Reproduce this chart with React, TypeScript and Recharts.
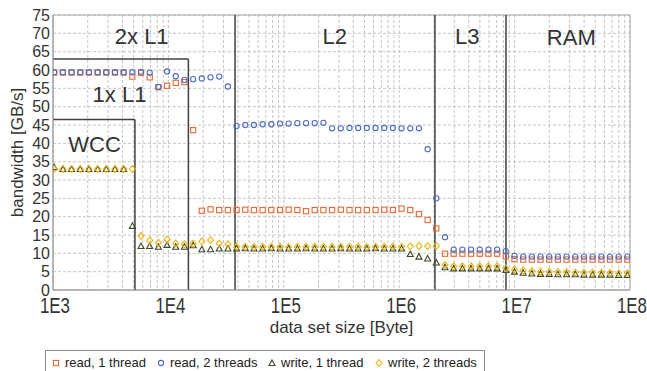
import { ScatterChart, Scatter, XAxis, YAxis, CartesianGrid, ReferenceLine, ReferenceArea, ReferenceDot, Legend, Label } from 'recharts';

// data set sizes in bytes (4 points per doubling)
const sizes = [
  1024, 1218, 1448, 1722, 2048, 2435, 2896, 3444, 4096, 4871, 5793, 6889, 8192, 9742, 11585, 13777,
  16384, 19484, 23170, 27554, 32768, 38968, 46341, 55109, 65536, 77936, 92682, 110218, 131072, 155872,
  185364, 220436, 262144, 311744, 370728, 440872, 524288, 623487, 741455, 881744, 1048576, 1246974,
  1482910, 1763488, 2097152, 2493948, 2965821, 3526975, 4194304, 4987896, 5931642, 7053950, 8388608,
  9975792, 11863283, 14107900, 16777216, 19951584, 23726566, 28215801, 33554432, 39903169, 47453133,
  56431603, 67108864, 79806338, 94906266,
];

const read1 = [
  59.3, 59.3, 59.3, 59.3, 59.3, 59.3, 59.3, 59.3, 59.3,
  58.2, 59.2, 58.0, 55.3, 55.7, 56.5, 56.7, 43.6,
  21.6, 22.0,
  21.8, 21.8, 21.8, 21.9, 21.8, 21.8, 21.8, 21.8, 21.9, 21.8, 21.5,
  21.8, 21.8, 21.8, 21.9, 21.8, 21.8, 21.8, 21.8, 21.9, 21.8,
  22.2, 21.8, 20.7, 19.1, 16.8,
  9.9, 9.9, 9.9, 9.9, 9.9, 9.9, 9.9,
  9.2,
  8.4, 8.3, 8.3, 8.3, 8.3, 8.3, 8.3, 8.3, 8.3, 8.3, 8.3, 8.3, 8.3, 8.3,
];

const read2 = [
  59.4, 59.4, 59.4, 59.4, 59.4, 59.4, 59.4, 59.4, 59.4,
  59.4, 59.5, 59.3, 55.4, 59.6, 58.3, 57.3, 57.5,
  57.7, 58.0, 58.2, 55.5,
  44.7, 45.0, 45.0, 45.2, 45.2, 45.4, 45.4, 45.5, 45.5, 45.5, 45.6,
  44.1, 44.1, 44.2, 44.2, 44.2, 44.2, 44.2, 44.2, 44.1, 44.1, 44.1,
  38.4, 25.0, 14.4,
  11.0, 11.0, 11.0, 11.0, 11.0, 11.0,
  10.6,
  9.3, 9.1, 9.1, 9.1, 9.1, 9.1, 9.1, 9.1, 9.1, 9.1, 9.1, 9.1, 9.1, 9.1,
];

const write1 = [
  33.5, 33.0, 33.0, 33.0, 33.0, 33.0, 33.0, 33.0, 33.0,
  17.5, 12.0, 12.0, 11.8, 12.3, 11.8, 11.8, 12.2,
  11.1, 11.1, 11.3, 11.3,
  11.3, 11.4, 11.3, 11.3, 11.4, 11.3, 11.3, 11.3, 11.4, 11.3,
  11.3, 11.3, 11.4, 11.3, 11.3, 11.3, 11.4, 11.3, 11.3, 11.3,
  9.8, 9.1, 8.6, 7.5, 6.2,
  5.9, 5.9, 5.9, 5.9, 5.9, 5.9,
  5.5,
  5.0, 4.7, 4.5, 4.4, 4.4, 4.3, 4.3, 4.3, 4.2, 4.2, 4.2, 4.2, 4.1, 4.1,
];

const write2 = [
  33.0, 33.0, 33.0, 33.0, 33.0, 33.0, 33.0, 33.0, 33.0,
  33.0, 14.7, 13.5, 12.9, 13.8, 12.7, 12.5, 12.7,
  13.2, 13.6, 12.7, 12.5,
  11.8, 11.8, 11.7, 11.8, 11.8, 11.8, 11.7, 11.8, 11.8, 11.8,
  11.8, 11.7, 11.8, 11.8, 11.8, 11.7, 11.8, 11.8, 11.8, 11.8,
  11.9, 12.0, 12.0, 12.0,
  6.8,
  6.5, 6.5, 6.5, 6.5, 6.5, 6.5,
  5.9,
  5.6, 5.3, 5.1, 5.0, 5.0, 4.9, 4.9, 4.8, 4.8, 4.8, 4.7, 4.7, 4.6, 4.6,
];

const majorTicks = [1e3, 1e4, 1e5, 1e6, 1e7, 1e8];
const majorLabels = ['1E3', '1E4', '1E5', '1E6', '1E7', '1E8'];
const minorSteps = [2, 3, 4, 5, 6, 7, 8, 9];
const yTicks = [0, 5, 10, 15, 20, 25, 30, 35, 40, 45, 50, 55, 60, 65, 70, 75];
const seriesNames = ['read, 1 thread', 'read, 2 threads', 'write, 1 thread', 'write, 2 threads'];

const ORANGE = '#E56A35';
const BLUE = '#4D6CC0';
const OLIVE = '#3A4A2A';
const GOLD = '#EFB20A';
const LINE = '#404040';
const TEXT = '#333333';

const xTicks = majorTicks.flatMap((d) => (d < 1e8 ? [d, ...minorSteps.map((m) => m * d)] : [d]));

const toPoints = (vals: number[]) => sizes.map((x, i) => ({ x, y: vals[i] }));

const Square = (p: any) => (
  <rect x={p.cx - 2.6} y={p.cy - 2.6} width={5.2} height={5.2} fill="none" stroke={ORANGE} strokeWidth={1.1} />
);
const Circle = (p: any) => <circle cx={p.cx} cy={p.cy} r={2.6} fill="none" stroke={BLUE} strokeWidth={1.1} />;
const Triangle = (p: any) => (
  <polygon
    points={`${p.cx},${p.cy - 3} ${p.cx + 3},${p.cy + 2.5} ${p.cx - 3},${p.cy + 2.5}`}
    fill="none"
    stroke={OLIVE}
    strokeWidth={1.1}
  />
);
const Diamond = (p: any) => (
  <polygon
    points={`${p.cx},${p.cy - 3.4} ${p.cx + 3},${p.cy} ${p.cx},${p.cy + 3.4} ${p.cx - 3},${p.cy}`}
    fill="none"
    stroke={GOLD}
    strokeWidth={1.1}
  />
);

const markers = [Square, Circle, Triangle, Diamond];

const XTick = ({ x, payload }: any) => {
  const idx = majorTicks.indexOf(payload.value);
  if (idx < 0) return <g />;
  return (
    <text x={x + 2} y={313} textAnchor="middle" fontSize={22} textLength={30} lengthAdjust="spacingAndGlyphs" fill={TEXT}>
      {majorLabels[idx]}
    </text>
  );
};

const YTick = ({ y, payload }: any) => (
  <text x={50} y={y} dy={5.6} textAnchor="end" fontSize={16} fill={TEXT}>
    {payload.value}
  </text>
);

const legendLeft = [10, 115, 226, 333];

const renderLegend = () => (
  <div
    style={{
      position: 'relative',
      width: 440,
      height: 26,
      border: '1px solid #8c8c8c',
      boxSizing: 'border-box',
      background: '#fff',
      fontSize: 13,
      color: '#222',
    }}
  >
    {seriesNames.map((name, i) => {
      const M = markers[i];
      return (
        <div key={name} style={{ position: 'absolute', left: legendLeft[i] - 5, top: 5, display: 'flex', alignItems: 'center', whiteSpace: 'nowrap' }}>
          <svg width={10} height={10}>
            <M cx={5} cy={5} />
          </svg>
          <span style={{ marginLeft: 4, lineHeight: '13px' }}>{name}</span>
        </div>
      );
    })}
  </div>
);

const regionLabel = (value: string) => ({ value, position: 'center' as const, fontSize: 22, fill: TEXT });

export default function App() {
  return (
    <div style={{ position: 'absolute', left: 0, top: 0, width: 647, height: 371, background: '#fff', fontFamily: '"Liberation Sans", Arial, sans-serif' }}>
      <ScatterChart width={647} height={371} margin={{ top: 15, right: 17, left: 0, bottom: 41 }}>
        <CartesianGrid strokeDasharray="3 2" stroke="#c6c6c6" />
        <XAxis
          type="number"
          dataKey="x"
          scale="log"
          domain={[1e3, 1e8]}
          ticks={xTicks}
          interval={0}
          allowDataOverflow
          tickLine={false}
          axisLine={{ stroke: '#a0a0a0' }}
          height={40}
          tick={<XTick />}
        >
          <Label
            content={() => (
              <text x={341.5} y={333} textAnchor="middle" fontSize={17} fill={TEXT}>
                data set size [Byte]
              </text>
            )}
          />
        </XAxis>
        <YAxis
          type="number"
          dataKey="y"
          domain={[0, 75]}
          ticks={yTicks}
          interval={0}
          allowDataOverflow
          width={53}
          tickLine={false}
          axisLine={{ stroke: '#a0a0a0' }}
          tick={<YTick />}
        >
          <Label
            content={() => (
              <text transform="translate(23,152.5) rotate(-90)" textAnchor="middle" fontSize={17} fill={TEXT}>
                bandwidth [GB/s]
              </text>
            )}
          />
        </YAxis>
        <ReferenceArea x1={1e3} x2={1e8} y1={0} y2={75} fill="none" stroke="#a6a6a6" strokeWidth={1} />

        {/* cache level boundaries */}
        <ReferenceLine segment={[{ x: 1e3, y: 46.5 }, { x: 5130, y: 46.5 }]} stroke={LINE} strokeWidth={1.5} />
        <ReferenceLine segment={[{ x: 5130, y: 0 }, { x: 5130, y: 46.5 }]} stroke={LINE} strokeWidth={1.5} />
        <ReferenceLine segment={[{ x: 1e3, y: 63 }, { x: 14900, y: 63 }]} stroke={LINE} strokeWidth={1.5} />
        <ReferenceLine segment={[{ x: 14900, y: 0 }, { x: 14900, y: 63 }]} stroke={LINE} strokeWidth={1.5} />
        <ReferenceLine x={37800} stroke={LINE} strokeWidth={1.5} />
        <ReferenceLine x={2.04e6} stroke={LINE} strokeWidth={1.5} />
        <ReferenceLine x={8.42e6} stroke={LINE} strokeWidth={1.5} />

        <ReferenceDot x={5870} y={69.3} r={0} stroke="none" label={regionLabel('2x L1')} />
        <ReferenceDot x={3770} y={53.5} r={0} stroke="none" label={regionLabel('1x L1')} />
        <ReferenceDot x={2290} y={39.9} r={0} stroke="none" label={regionLabel('WCC')} />
        <ReferenceDot x={276000} y={69.3} r={0} stroke="none" label={regionLabel('L2')} />
        <ReferenceDot x={3.89e6} y={69.3} r={0} stroke="none" label={regionLabel('L3')} />
        <ReferenceDot x={3.1e7} y={69.0} r={0} stroke="none" label={regionLabel('RAM')} />

        <Scatter name={seriesNames[0]} data={toPoints(read1)} shape={Square} isAnimationActive={false} />
        <Scatter name={seriesNames[1]} data={toPoints(read2)} shape={Circle} isAnimationActive={false} />
        <Scatter name={seriesNames[2]} data={toPoints(write1)} shape={Triangle} isAnimationActive={false} />
        <Scatter name={seriesNames[3]} data={toPoints(write2)} shape={Diamond} isAnimationActive={false} />

        <Legend
          verticalAlign="middle"
          align="center"
          layout="horizontal"
          wrapperStyle={{ left: 45, top: 350, width: 440, height: 26 }}
          content={renderLegend}
        />
      </ScatterChart>
    </div>
  );
}
